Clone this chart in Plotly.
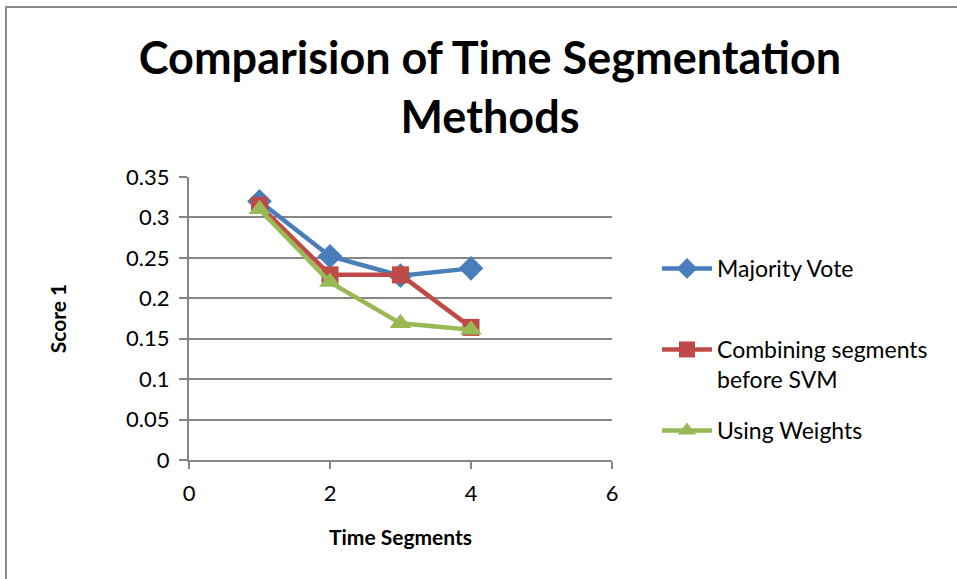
import plotly.graph_objects as go

x_vals = [1, 2, 3, 4]
majority_vote = [0.320, 0.252, 0.228, 0.237]
combining = [0.315, 0.229, 0.229, 0.164]
weights = [0.310, 0.220, 0.169, 0.161]
series_names = ["Majority Vote", "Combining segments<br>before SVM", "Using Weights"]
y_ticks = [0, 0.05, 0.1, 0.15, 0.2, 0.25, 0.3, 0.35]
y_tick_text = ["0", "0.05", "0.1", "0.15", "0.2", "0.25", "0.3", "0.35"]
x_ticks = [0, 2, 4, 6]

FONT = "Lato"
fig = go.Figure()
fig.add_trace(go.Scatter(x=x_vals, y=majority_vote, name=series_names[0], mode="lines+markers",
                         line=dict(color="#4A7EBB", width=4.5), showlegend=True,
                         marker=dict(symbol="diamond", size=19, color="#4A7EBB"), legend="legend"))
fig.add_trace(go.Scatter(x=x_vals, y=combining, name=series_names[1], mode="lines+markers",
                         line=dict(color="#BE4B48", width=4.5), showlegend=True,
                         marker=dict(symbol="square", size=17, color="#BE4B48"), legend="legend2"))
fig.add_trace(go.Scatter(x=x_vals, y=weights, name=series_names[2], mode="lines+markers",
                         line=dict(color="#98B954", width=4.5), showlegend=True,
                         marker=dict(symbol="triangle-up", size=19, color="#98B954"), legend="legend3"))

PW, PH, PL, PB = 423, 283, 189, 460


def legend_at(top_px):
    return dict(x=(657 - PL) / PW, xanchor="left", y=(PB - top_px) / PH, yanchor="top",
                valign="top", font=dict(size=23), itemwidth=50,
                bgcolor="rgba(0,0,0,0)")


fig.update_layout(
    width=957, height=579,
    showlegend=True,
    margin=dict(l=189, r=345, t=177, b=119),
    paper_bgcolor="white", plot_bgcolor="white",
    font=dict(family=FONT, size=20, color="black"),
    title=dict(text="<b>Comparision of Time Segmentation<br>Methods</b>",
               font=dict(family=FONT, size=45, color="black"),
               x=490/957, xanchor="center", y=1 - 74/579, yanchor="middle"),
    xaxis=dict(range=[0, 6], tickvals=x_ticks, showgrid=False, zeroline=False,
               showline=True, linecolor="#868686", linewidth=2,
               ticks="outside", ticklen=7, tickcolor="#868686", tickwidth=2,
               ticklabelstandoff=6,
               title=dict(text="<b>Time Segments</b>", font=dict(size=21), standoff=25),
               tickfont=dict(size=22)),
    yaxis=dict(range=[0, 0.35], tickvals=y_ticks, ticktext=y_tick_text, showgrid=True,
               gridcolor="#868686", gridwidth=2, zeroline=False,
               showline=True, linecolor="#868686", linewidth=2,
               ticks="outside", ticklen=8, tickcolor="#868686", tickwidth=2,
               ticklabelstandoff=5,
               title=dict(text="<b>Score 1</b>", font=dict(size=21), standoff=54),
               tickfont=dict(size=22)),
    legend=legend_at(247),
    legend2=legend_at(328),
    legend3=legend_at(409),
    shapes=[dict(type="rect", xref="paper", yref="paper",
                 x0=(6 - PL) / PW, x1=(970 - PL) / PW,
                 y0=(PB - 600) / PH, y1=(PB - 7) / PH,
                 line=dict(color="#8c8c8c", width=2), layer="below")],
)

fig.write_html("out.html")
